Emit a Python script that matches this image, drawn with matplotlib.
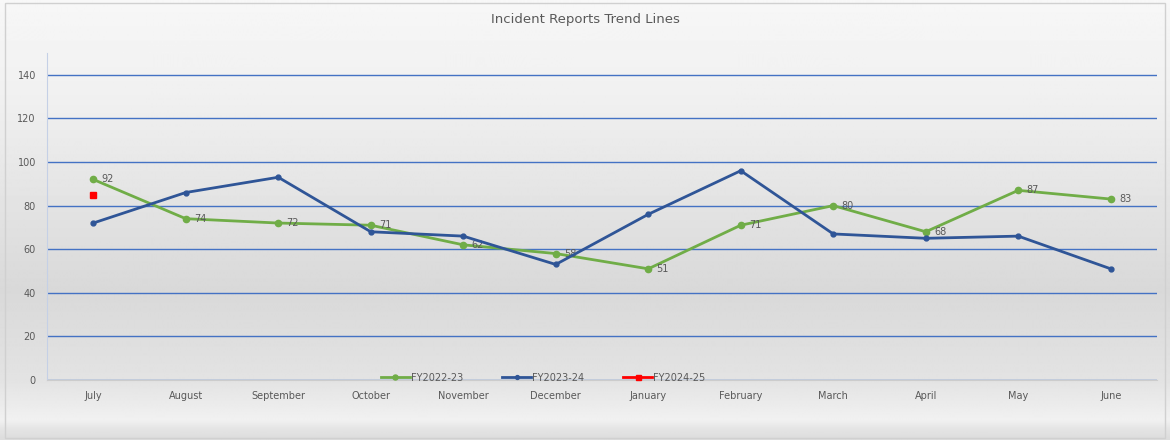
#!/usr/bin/env python3
"""Incident Reports Trend Lines - line chart with Excel-style gradient background."""
import matplotlib
matplotlib.use("Agg")
import matplotlib.pyplot as plt
import numpy as np

months = ["July", "August", "September", "October", "November", "December",
          "January", "February", "March", "April", "May", "June"]
fy2223 = [92, 74, 72, 71, 62, 58, 51, 71, 80, 68, 87, 83]
fy2324 = [72, 86, 93, 68, 66, 53, 76, 96, 67, 65, 66, 51]
fy2425 = [85]

GREEN = "#70ad47"
BLUE = "#2f5597"
RED = "#ff0000"
GRID = "#4472c4"
TXT = "#595959"

fig = plt.figure(figsize=(11.7, 4.4), dpi=100)

# background gradient (light top, grey middle, light bottom, darker footer band)
bg = fig.add_axes([0, 0, 1, 1], zorder=-10)
stops_y = [0, 12, 100, 290, 380, 420, 428, 440]
stops_v = [0.97, 0.965, 0.94, 0.85, 0.89, 0.945, 0.90, 0.86]
yy = np.arange(440)
col = np.interp(yy, stops_y, stops_v)
bg.imshow(np.repeat(col[:, None], 4, axis=1), cmap="gray", vmin=0, vmax=1,
          aspect="auto", extent=[0, 1, 0, 1], origin="upper")
bg.add_patch(plt.Rectangle((0.004, 0.005), 0.992, 0.988, fill=False,
                           edgecolor="#d0d0d0", lw=1, transform=bg.transAxes))
bg.axis("off")

ax = fig.add_axes([47 / 1170, 60 / 440, 1110 / 1170, 327 / 440])
ax.patch.set_alpha(0)
x = np.arange(len(months))

ax.plot(x, fy2223, color=GREEN, lw=2.0, marker="o", ms=4.5, label="FY2022-23", zorder=3)
ax.plot(x, fy2324, color=BLUE, lw=2.0, marker="o", ms=3.5, label="FY2023-24", zorder=4)
ax.plot(x[:len(fy2425)], fy2425, color=RED, lw=2.0, marker="s", ms=4.5,
        label="FY2024-25", zorder=5)

for xi, v in zip(x, fy2223):
    ax.annotate(str(v), (xi, v), xytext=(6, 0), textcoords="offset points",
                va="center", ha="left", fontsize=7, color=TXT)

ax.set_xlim(-0.5, 11.5)
ax.set_ylim(0, 150)
ax.set_yticks(range(0, 141, 20))
ax.set_xticks(x)
ax.set_xticklabels(months)
ax.yaxis.grid(True, color=GRID, lw=1)
ax.set_axisbelow(True)
ax.tick_params(length=0, labelsize=7, colors=TXT, pad=8)
for s in ["top", "right"]:
    ax.spines[s].set_visible(False)
ax.spines["left"].set_color("#c5d0e6")
ax.spines["bottom"].set_color("#cccccc")
ax.spines["left"].set_bounds(0, 150)

ax.legend(loc="lower center", bbox_to_anchor=(0.447, -0.035), ncol=3, frameon=False,
          fontsize=7, labelcolor=TXT, columnspacing=4.0, handlelength=3,
          handletextpad=0.1, markerscale=0.8)

fig.text(0.5, 0.955, "Incident Reports Trend Lines", ha="center", va="center",
         fontsize=9.5, color=TXT)

fig.savefig("out.png", dpi=100)
